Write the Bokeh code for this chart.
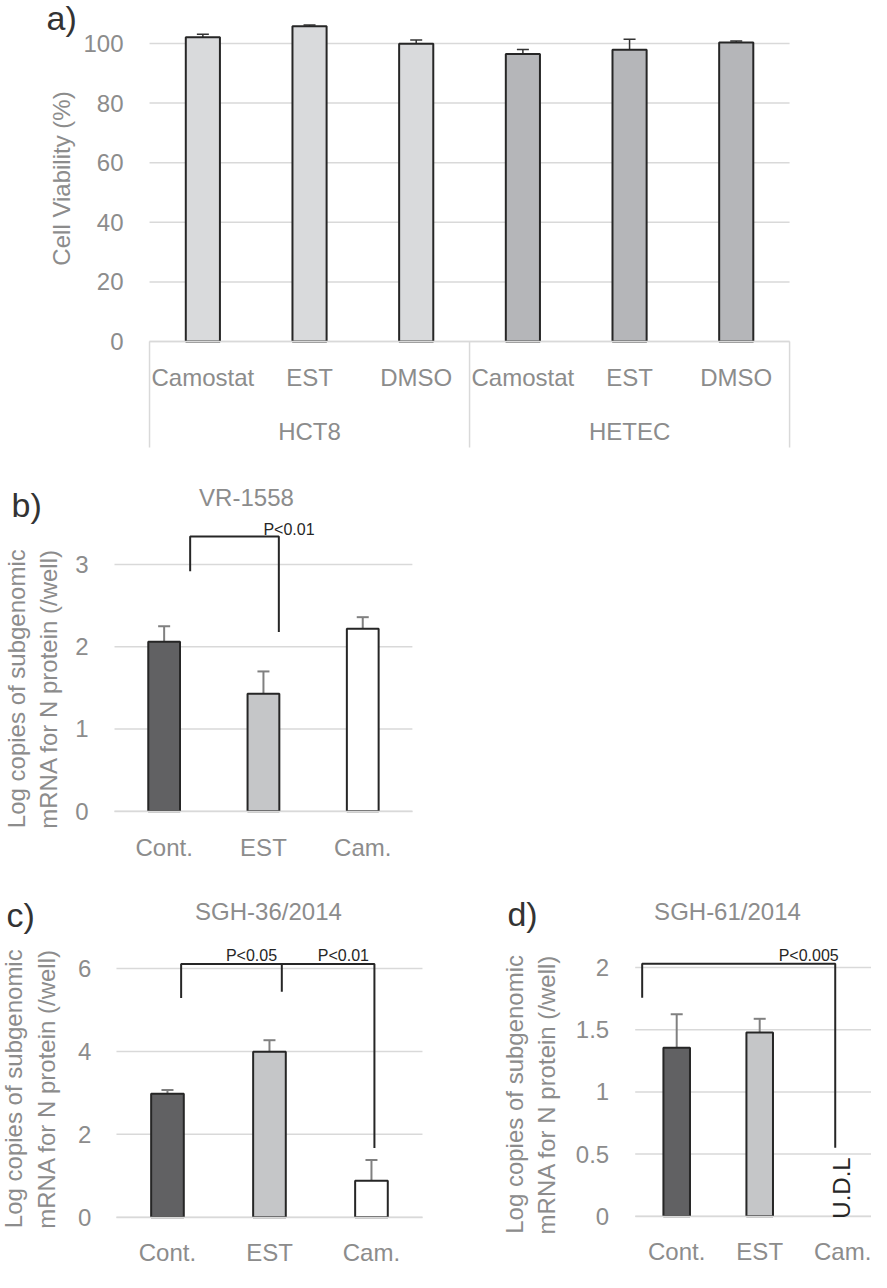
import math
from bokeh.plotting import figure
from bokeh.models import Range1d, FixedTicker, Label, ColumnDataSource, Whisker, TeeHead, LinearAxis
from bokeh.layouts import column, row
from bokeh.embed import file_html
from bokeh.resources import INLINE

# ---------------- data ----------------
a_cell_lines = ["HCT8", "HETEC"]
a_treatments = ["Camostat", "EST", "DMSO"]
a_hct8_viability = [102.1, 105.8, 99.9]
a_hct8_sd = [1.0, 0.4, 1.3]
a_hetec_viability = [96.5, 97.9, 100.3]
a_hetec_sd = [1.5, 3.5, 0.5]
a_yticks = [0, 20, 40, 60, 80, 100]

groups = ["Cont.", "EST", "Cam."]
b_values = [2.06, 1.43, 2.22]
b_sd = [0.19, 0.27, 0.14]
b_yticks = [0, 1, 2, 3]

c_values = [2.98, 3.99, 0.88]
c_sd = [0.09, 0.28, 0.50]
c_yticks = [0, 2, 4, 6]

d_values = [1.355, 1.478, float("nan")]   # Cam.: under detection limit (U.D.L)
d_sd = [0.27, 0.11, float("nan")]
d_yticks = [0, 0.5, 1, 1.5, 2]

ylabel_log = "Log copies of subgenomic\nmRNA for N protein (/well)"

# ---------------- style ----------------
FONT = "Liberation Sans"
TXT = "#8c8c8c"
GRID = "#d9d9d9"
INK = "#262626"
LETTER = "#333333"
BAR_COLORS = ["#616163", "#c5c6c8", "#ffffff"]
A_COLORS = {"HCT8": "#d9dadc", "HETEC": "#b5b6b9"}


def style_axis(ax, standoff):
    ax.major_tick_line_color = None
    ax.minor_tick_line_color = None
    ax.major_tick_out = 0
    ax.major_tick_in = 0
    ax.minor_tick_out = 0
    ax.minor_tick_in = 0
    ax.major_label_text_font = FONT
    ax.major_label_text_font_size = "24px"
    ax.major_label_text_color = TXT
    ax.major_label_standoff = standoff


def base_fig(xr, yr, w, h, n, yticks, ylab_standoff, xlab_standoff, xlabels):
    p = figure(width=w, height=h, x_range=Range1d(*xr), y_range=Range1d(*yr),
               output_backend="svg", toolbar_location=None,
               min_border=0, min_border_left=0, min_border_right=0,
               min_border_top=0, min_border_bottom=0)
    p.outline_line_color = None
    p.background_fill_color = "white"
    p.border_fill_color = "white"
    p.grid.visible = False
    xs = list(range(n))
    # y axis sits at the left edge of the bar area
    ya = p.yaxis[0]
    ya.fixed_location = -0.5
    ya.ticker = FixedTicker(ticks=yticks)
    ya.major_label_overrides = {t: f"{t:g}" for t in yticks}
    ya.axis_line_color = None
    style_axis(ya, ylab_standoff)
    # x axis sits at value 0
    xa = p.xaxis[0]
    xa.fixed_location = 0
    xa.bounds = (-0.5, n - 0.5)
    xa.ticker = FixedTicker(ticks=xs)
    xa.major_label_overrides = {i: s for i, s in zip(xs, xlabels)}
    xa.axis_line_color = GRID
    xa.axis_line_width = 1.5
    style_axis(xa, xlab_standoff)
    # horizontal grid lines across the bar area only
    p.segment(x0=[-0.5] * len(yticks), y0=yticks, x1=[n - 0.5] * len(yticks), y1=yticks,
              line_color=GRID, line_width=1.5, level="underlay")
    return p, xs


def text(p, x, y, s, size="24px", color=TXT, align="center", baseline="middle", angle=0.0):
    p.add_layout(Label(x=x, y=y, text=s, text_font=FONT, text_font_size=size,
                       text_color=color, text_align=align, text_baseline=baseline,
                       angle=angle))


def bars(p, xs, vals, sds, colors, wcolor, wwidth):
    keep = [i for i, v in enumerate(vals) if not math.isnan(v)]
    src = ColumnDataSource(dict(
        x=[xs[i] for i in keep],
        top=[vals[i] for i in keep],
        upper=[vals[i] + sds[i] for i in keep],
        color=[colors[i] for i in keep],
    ))
    p.add_layout(Whisker(base="x", lower="top", upper="upper", source=src,
                         dimension="height", line_color=wcolor, line_width=wwidth,
                         upper_head=TeeHead(size=12, line_color=wcolor, line_width=wwidth),
                         lower_head=None))
    p.vbar(x="x", top="top", bottom=0, width=0.32, fill_color="color",
           line_color=INK, line_width=2, source=src)


def bracket(p, xs, ys):
    p.line(x=xs, y=ys, line_color=INK, line_width=2)


# ---------------- panel a ----------------
a_labels = [t for _ in a_cell_lines for t in a_treatments]
a_vals = a_hct8_viability + a_hetec_viability
a_sds = a_hct8_sd + a_hetec_sd
a_cols = [A_COLORS[cl] for cl in a_cell_lines for _ in a_treatments]
n_t = len(a_treatments)
pa, xa_idx = base_fig((-1.897, 6.268), (-39.93, 114.43), 871, 460, len(a_labels),
                      a_yticks, 26, 22, a_labels)
bars(pa, xa_idx, a_vals, a_sds, a_cols, "#333333", 1.5)
# cell-line group labels: a second axis at the same baseline
grp_centers = [k * n_t + (n_t - 1) / 2 for k in range(len(a_cell_lines))]
ga = LinearAxis(ticker=FixedTicker(ticks=grp_centers),
                major_label_overrides={c: s for c, s in zip(grp_centers, a_cell_lines)},
                axis_line_color=None)
ga.fixed_location = 0
style_axis(ga, 76)
pa.add_layout(ga, "below")
# group separators below the axis
sep_x = [k * n_t - 0.5 for k in range(len(a_cell_lines) + 1)]
a_sep_bottom = -35.57
pa.segment(x0=sep_x, y0=[0] * len(sep_x), x1=sep_x, y1=[a_sep_bottom] * len(sep_x),
           line_color=GRID, line_width=1.5)
text(pa, -1.466, 108.4, "a)", size="34px", color=LETTER, align="left")
text(pa, -1.325, 54.7, "Cell Viability (%)", angle=math.pi / 2)

# ---------------- panel b ----------------
pb, xb = base_fig((-1.648, 2.783), (-0.746, 4.266), 440, 412, len(groups),
                  b_yticks, 26, 23, groups)
bars(pb, xb, b_values, b_sd, BAR_COLORS, "#808080", 2)
bracket(pb, [0.262, 0.262, 1.155, 1.155], [2.92, 3.34, 3.34, 2.18])
text(pb, -1.537, 3.73, "b)", size="34px", color=LETTER, align="left")
text(pb, 0.829, 3.81, "VR-1558")
text(pb, 1.257, 3.43, "P<0.01", size="16px", color=INK)
text(pb, -1.326, 1.49, ylabel_log, angle=math.pi / 2)

# ---------------- panel c ----------------
pc, xc = base_fig((-1.637, 3.069), (-1.334, 8.316), 480, 400, len(groups),
                  c_yticks, 25, 22, groups)
bars(pc, xc, c_values, c_sd, BAR_COLORS, "#808080", 2)
bracket(pc, [0.134, 0.134, 2.029, 2.029], [5.29, 6.11, 6.11, 1.67])
bracket(pc, [1.121, 1.121], [5.44, 6.11])
text(pc, -1.578, 7.30, "c)", size="34px", color=LETTER, align="left")
text(pc, 0.990, 7.38, "SGH-36/2014")
text(pc, 0.824, 6.32, "P<0.05", size="16px", color=INK)
text(pc, 1.725, 6.32, "P<0.01", size="16px", color=INK)
text(pc, -1.348, 3.10, ylabel_log, angle=math.pi / 2)

# ---------------- panel d ----------------
pd_, xd = base_fig((-2.364, 2.347), (-0.453, 2.765), 391, 400, len(groups),
                   d_yticks, 26, 22, groups)
bars(pd_, xd, d_values, d_sd, BAR_COLORS, "#808080", 2)
bracket(pd_, [-0.416, -0.416, 1.91, 1.91], [1.757, 2.03, 2.03, 0.55])
text(pd_, -2.04, 2.43, "d)", size="34px", color=LETTER, align="left")
text(pd_, 0.612, 2.45, "SGH-61/2014")
text(pd_, 1.59, 2.10, "P<0.005", size="16px", color=INK)
text(pd_, 1.98, -0.02, "U.D.L", color=INK, align="left", angle=math.pi / 2)
text(pd_, -1.76, 0.98, ylabel_log, angle=math.pi / 2)

layout = column(pa, pb, row(pc, pd_))
open("out.html", "w").write(file_html(layout, INLINE))
